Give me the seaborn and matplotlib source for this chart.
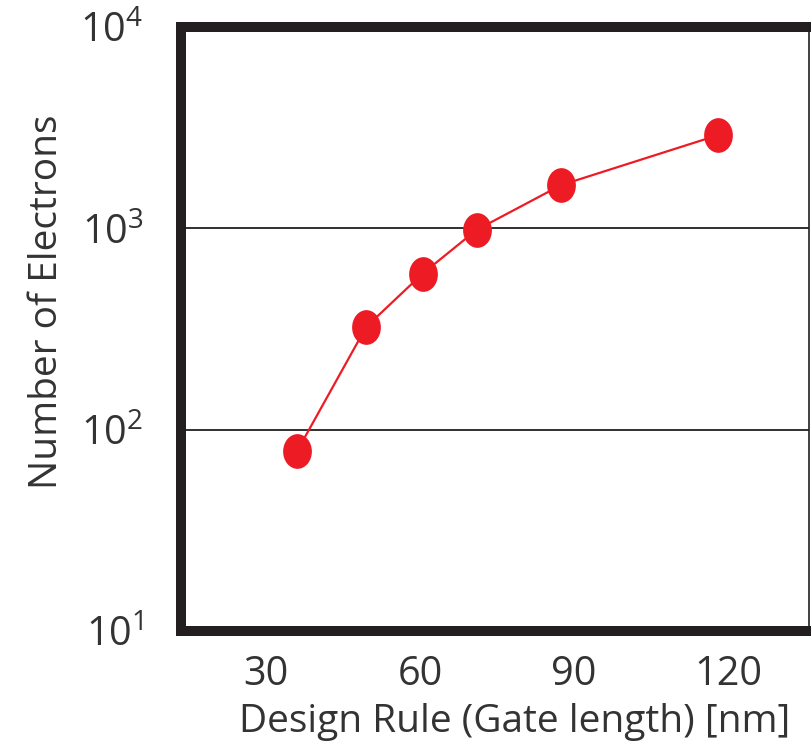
import numpy as np
import pandas as pd
import matplotlib
matplotlib.use("Agg")
import matplotlib.pyplot as plt
import seaborn as sns
from matplotlib.path import Path
from matplotlib.transforms import Affine2D

# ---- data ----
design_rule_nm = [36, 49.5, 60.5, 71, 87.5, 118]
electrons = [78, 324, 596, 982, 1640, 2900]
x_ticks = [30, 60, 90, 120]
x_tick_labels = ["30", "60", "90", "120"]
y_ticks = [10, 100, 1000, 10000]
y_tick_labels = ["$10^{1}$", "$10^{2}$", "$10^{3}$", "$10^{4}$"]
x_label = "Design Rule (Gate length) [nm]"
y_label = "Number of Electrons"

df = pd.DataFrame({"rule": design_rule_nm, "electrons": electrons})

sns.set_theme(style="white")
plt.rcParams["font.family"] = ["Open Sans", "DejaVu Sans"]
plt.rcParams["mathtext.default"] = "regular"

RED = "#ED1C24"
DARK = "#231F20"
TEXT = "#333333"

W, H = 811, 749
fig = plt.figure(figsize=(W / 100, H / 100), dpi=100)
left, right, top, bottom = 181, 809, 27, 631
ax = fig.add_axes([left / W, (H - bottom) / H, (right - left) / W, (bottom - top) / H])

ellipse = Path.unit_circle().transformed(Affine2D().scale(29 / 35, 1.0))

sns.lineplot(data=df, x="rule", y="electrons", ax=ax, color=RED, linewidth=1.6,
             marker=ellipse, markersize=25, markeredgewidth=0, zorder=3)

ax.set_yscale("log")
ax.set_ylim(10, 10000)
ax.set_xlim(13.4, 135.8)
ax.set_xticks(x_ticks)
ax.set_xticklabels(x_tick_labels)
ax.set_yticks(y_ticks)
ax.set_yticklabels(y_tick_labels)
ax.minorticks_off()

ax.grid(axis="y", which="major", color=DARK, linewidth=1.3)
ax.grid(axis="x", visible=False)
ax.set_axisbelow(True)

for side in ["left", "top", "bottom"]:
    ax.spines[side].set_linewidth(7.2)
    ax.spines[side].set_color(DARK)
ax.spines["right"].set_linewidth(1.2)
ax.spines["right"].set_color(DARK)

ax.tick_params(axis="both", length=0, labelsize=28.5, colors=TEXT)
ax.tick_params(axis="x", pad=17)
ax.tick_params(axis="y", pad=27)

ax.set_xlabel(x_label, fontsize=28, color=TEXT, va="center")
ax.set_ylabel(y_label, fontsize=28, color=TEXT, va="center")
ax.xaxis.set_label_coords((515 - left) / (right - left), (bottom - 722) / (bottom - top))
ax.yaxis.set_label_coords((47 - left) / (right - left), (bottom - 302) / (bottom - top))

fig.savefig("out.png", dpi=100)
